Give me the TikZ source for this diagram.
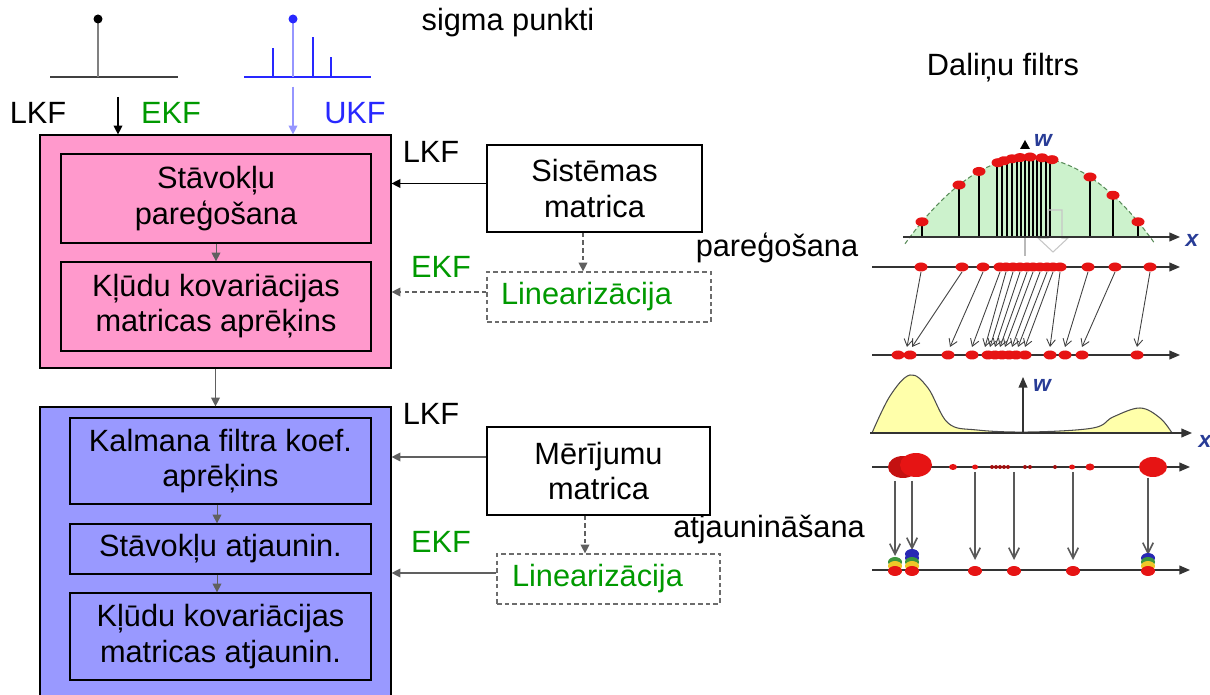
\documentclass[tikz,border=0pt]{standalone}
\usepackage{fontspec}
\setmainfont{Liberation Sans}
\usetikzlibrary{arrows.meta}
\definecolor{pinkf}{RGB}{255,153,204}
\definecolor{bluef}{RGB}{153,153,255}
\definecolor{ekfgreen}{RGB}{0,153,0}
\definecolor{ukfblue}{RGB}{40,40,255}
\definecolor{lightstem}{RGB}{150,150,255}
\definecolor{bellgreen}{RGB}{204,242,204}
\definecolor{bellline}{RGB}{90,140,90}
\definecolor{bumpyellow}{RGB}{255,255,170}
\definecolor{pred}{RGB}{230,20,20}
\definecolor{pyellow}{RGB}{240,200,40}
\definecolor{pgreen}{RGB}{60,150,60}
\definecolor{pblue}{RGB}{40,40,180}
\definecolor{axlabel}{RGB}{40,60,150}
\begin{document}
\begin{tikzpicture}[x=0.02cm,y=-0.02cm,
  txt/.style={font=\fontsize{17.5}{20}\selectfont, inner sep=0pt, anchor=base},
  box/.style={draw=black, line width=0.7pt, align=center, font=\fontsize{17.5}{20}\selectfont, inner sep=0pt},
  dbox/.style={draw=gray!85!black, dashed, dash pattern=on 2.6pt off 1.8pt, line width=0.7pt, font=\fontsize{17.5}{20}\selectfont, text=ekfgreen, align=left},
  arr/.style={-{Triangle[length=5pt,width=5pt]}, line width=0.7pt},
  garr/.style={arr, draw=gray!75!black},
  darr/.style={arr, draw=gray!75!black, dashed, dash pattern=on 2.6pt off 1.8pt},
  axarr/.style={-{Triangle[length=6pt,width=5pt]}, line width=0.7pt, draw=black!80},
  parr/.style={-{Straight Barb[length=4pt,width=5pt]}, line width=0.5pt, draw=black!75},
  qarr/.style={-{Straight Barb[length=6pt,width=6pt]}, line width=0.9pt, draw=gray!70!black},
  xlab/.style={font=\bfseries\itshape\fontsize{13}{13}\selectfont, text=axlabel, inner sep=0pt}
]
\useasboundingbox (0,0) rectangle (1210,695);

% ---------- sigma points icons
\draw[line width=1pt, black!75] (50,77) -- (178,77);
\draw[line width=1pt, gray] (98,19) -- (98,77);
\fill (98,19) circle [radius=0.9mm];
\draw[line width=1pt, ukfblue] (244,77) -- (371,77);
\draw[line width=1pt, ukfblue] (273,77) -- (273,48) (313,77) -- (313,37) (331,77) -- (331,57);
\draw[line width=1pt, lightstem] (293,19) -- (293,77);
\fill[ukfblue] (293,19) circle [radius=0.9mm];

\node[txt] (sp) at (508,31) {sigma punkti};
\node[txt] (df) at (1003,76) {Daliņu filtrs};
\node[txt] (lkf1) at (38,124) {LKF};
\node[txt, text=ekfgreen] (ekf1) at (171,124) {EKF};
\node[txt, text=ukfblue] (ukf1) at (355,124) {UKF};
\node[txt] (lkf2) at (431,163) {LKF};
\node[txt, text=ekfgreen] (ekf2) at (441,278) {EKF};
\node[txt] (lkf3) at (431,425) {LKF};
\node[txt, text=ekfgreen] (ekf3) at (441,552) {EKF};
\node[txt] (par) at (777,257) {pareģošana};
\node[txt] (atj) at (769,538) {atjaunināšana};

% ---------- left blocks
\node[box, fill=pinkf, minimum width=7.02cm, minimum height=4.66cm] (pink) at (215.5,251.5) {};
\node[box, minimum width=6.2cm, minimum height=1.78cm] (st) at (216,198.5) {Stāvokļu\\pareģošana};
\node[box, minimum width=6.2cm, minimum height=1.78cm] (kl) at (216,306.5) {Kļūdu kovariācijas\\matricas aprēķins};
\node[box, fill=bluef, minimum width=7.02cm, minimum height=5.9cm] (blu) at (215.5,554.5) {};
\node[box, minimum width=6.02cm, minimum height=1.72cm] (ka) at (220.5,461) {Kalmana filtra koef.\\aprēķins};
\node[box, minimum width=6.02cm, minimum height=1.0cm] (sa) at (220.5,549) {Stāvokļu atjaunin.};
\node[box, minimum width=6.02cm, minimum height=1.74cm] (ka2) at (220.5,636.5) {Kļūdu kovariācijas\\matricas atjaunin.};

\coordinate (lkfin) at (118,97);
\coordinate (ukfin) at (293,87);
\draw[arr] (lkfin) -- (lkfin |- pink.north);
\draw[arr, draw=lightstem, fill=ukfblue] (ukfin) -- (ukfin |- pink.north);
\draw[garr, line width=0.5pt] (st.south) -- (kl.north);
\draw[garr] (pink.south) -- (pink.south |- blu.north);
\draw[garr, line width=0.5pt] ([xshift=-0.07cm]ka.south) -- ([xshift=-0.07cm]ka.south |- sa.north);
\draw[garr, line width=0.5pt] ([xshift=-0.07cm]sa.south) -- ([xshift=-0.07cm]sa.south |- ka2.north);

% ---------- right blocks
\node[box, minimum width=4.3cm, minimum height=1.74cm] (sys) at (594.5,188.5) {Sistēmas\\matrica};
\node[dbox, minimum height=1.0cm, text width=3.92cm, inner xsep=0.28cm, inner ysep=0pt] (lin1) at (599,297) {Linearizācija};
\node[box, minimum width=4.46cm, minimum height=1.76cm] (mer) at (598.5,471) {Mērījumu\\matrica};
\node[dbox, minimum height=1.0cm, text width=3.86cm, inner xsep=0.3cm, inner ysep=0pt] (lin2) at (608.5,579) {Linearizācija};

\draw[arr] ([yshift=1mm]sys.west) -- ([yshift=1mm]sys.west -| pink.east);
\draw[darr] ([xshift=-2.3mm]sys.south) -- ([xshift=-2.3mm]sys.south |- lin1.north);
\draw[darr] ([yshift=1mm]lin1.west) -- ([yshift=1mm]lin1.west -| pink.east);
\draw[garr] ([yshift=2.8mm]mer.west) -- ([yshift=2.8mm]mer.west -| blu.east);
\draw[darr] ([xshift=-2.7mm]mer.south) -- ([xshift=-2.7mm]mer.south |- lin2.north);
\draw[garr] ([yshift=1.2mm]lin2.west) -- ([yshift=1.2mm]lin2.west -| blu.east);

% ---------- particle filter illustration
% green bell
\fill[bellgreen] plot[domain=910:1150, samples=50] (\x,{237-80*(1-((\x-1030)/120)^2)}) -- cycle;
\draw[bellline, dashed, dash pattern=on 2.5pt off 1.5pt, line width=0.6pt] plot[domain=905:1155, samples=50] (\x,{237-80*(1-((\x-1030)/120)^2)});
\foreach \p in {922,959,979,997,1002,1007,1012,1017,1021,1025,1029,1033,1037,1041,1046,1050,1090,1113,1138}
  \draw[line width=0.8pt] (\p,237) -- (\p,{237-80*(1-((\p-1030)/120)^2)});
\foreach \p in {922,959,979,998,1004,1012,1020,1030,1042,1052,1090,1113,1138}
  \fill[pred] (\p,{237-80*(1-((\p-1030)/120)^2)}) ellipse [x radius=1.3mm, y radius=0.9mm];
\draw[gray!45, line width=0.6pt] (1048,210) -- (1062,210) -- (1062,238) -- (1068,238) -- (1053,252) -- (1038,238) -- (1048,238) -- cycle;
\draw[gray!55, line width=0.6pt] (1025,237) -- (1025,256);
\draw[axarr] (903,237) -- (1180,237);
\node[xlab] (x1) at (1192,240) {x};
\fill (1020,149) -- (1030,149) -- (1025,140) -- cycle;
\node[xlab] (w1) at (1043,140) {w};

% row 2 and row 3
\draw[axarr] (872,267) -- (1180,267);
\foreach \p in {921,962,983,1000,1006,1013,1020,1027,1033,1040,1047,1053,1060,1088,1115,1150}
  \fill[pred] (\p,267) ellipse [x radius=1.3mm, y radius=0.9mm];
\draw[axarr] (872,355) -- (1180,355);
\foreach \p in {898,910,948,972,988,995,1002,1009,1016,1025,1050,1065,1082,1137}
  \fill[pred] (\p,355) ellipse [x radius=1.3mm, y radius=0.9mm];
\foreach \a/\b in {921/907,962/912,983/950,1000/972,1006/985,1013/990,1020/995,1027/1000,1033/1005,1040/1012,1047/1018,1053/1025,1060/1050,1088/1065,1115/1082,1150/1137}
  \draw[parr] (\a,272) -- (\b,347);

% yellow bump
\fill[bumpyellow] plot[smooth, tension=0.6] coordinates {(872,433) (890,396) (910,375) (928,388) (948,423) (977,430) (1030,432) (1093,428) (1113,417) (1140,408) (1160,418) (1172,433)} -- cycle;
\draw[black!70, line width=0.6pt] plot[smooth, tension=0.6] coordinates {(872,433) (890,396) (910,375) (928,388) (948,423) (977,430) (1030,432) (1093,428) (1113,417) (1140,408) (1160,418) (1172,433)};
\draw[axarr] (870,433) -- (1192,433);
\node[xlab] (x2) at (1205,441) {x};
\draw[axarr] (1023,433) -- (1023,377);
\node[xlab] (w2) at (1042,385) {w};

% row 4
\draw[axarr] (872,467) -- (1190,467);
\fill[pred!85!black] (903,467) ellipse [x radius=3.0mm, y radius=2.2mm];
\fill[pred] (916,465) ellipse [x radius=3.2mm, y radius=2.4mm];
\fill[pred] (1153,467) ellipse [x radius=2.8mm, y radius=2.0mm];
\fill[pred] (953,467) ellipse [x radius=0.8mm, y radius=0.6mm];
\fill[pred] (975,467) ellipse [x radius=0.6mm, y radius=0.5mm];
\foreach \p in {992,996,1000,1004,1008,1025,1030,1055}
  \fill[pred!70!black] (\p,467) circle [radius=0.4mm];
\fill[pred] (1072,467) ellipse [x radius=0.6mm, y radius=0.5mm];
\fill[pred] (1090,467) ellipse [x radius=0.9mm, y radius=0.7mm];

% row 5
\draw[axarr] (872,570) -- (1190,570);
\foreach \a/\t/\b in {895/481/556,912/481/550,975/472/560,1014/472/560,1073/472/560,1148/478/555}
  \draw[qarr] (\a,\t) -- (\a,\b);
\fill[pgreen] (895,562) ellipse [x radius=1.4mm, y radius=1mm];
\fill[pyellow] (895,566) ellipse [x radius=1.4mm, y radius=1mm];
\fill[pblue] (912,554) ellipse [x radius=1.4mm, y radius=1mm];
\fill[pblue] (912,558) ellipse [x radius=1.4mm, y radius=1mm];
\fill[pgreen] (912,562) ellipse [x radius=1.4mm, y radius=1mm];
\fill[pyellow] (912,566) ellipse [x radius=1.4mm, y radius=1mm];
\fill[pblue] (1148,558) ellipse [x radius=1.4mm, y radius=1mm];
\fill[pgreen] (1148,562) ellipse [x radius=1.4mm, y radius=1mm];
\fill[pyellow] (1148,566) ellipse [x radius=1.4mm, y radius=1mm];
\foreach \p in {895,912,975,1014,1073,1148}
  \fill[pred] (\p,571) ellipse [x radius=1.4mm, y radius=1mm];
\end{tikzpicture}
\end{document}
